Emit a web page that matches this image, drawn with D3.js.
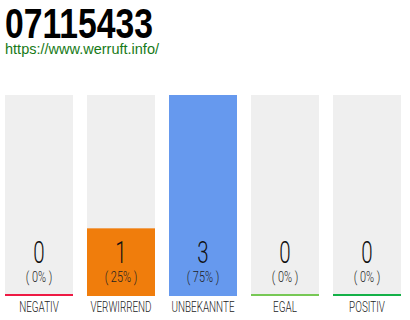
<!DOCTYPE html>
<html>
<head>
<meta charset="utf-8">
<script src="https://cdn.jsdelivr.net/npm/d3@7"></script>
<style>
  html, body { margin: 0; padding: 0; background: #fff; }
  svg { display: block; }
  text.pct { white-space: pre; }
</style>
</head>
<body>
<svg id="chart" width="410" height="320"></svg>
<script>
// Rating categories and their vote counts
const categories = ["NEGATIV", "VERWIRREND", "UNBEKANNTE", "EGAL", "POSITIV"];
const counts = [0, 1, 3, 0, 0];
const fillColors = ["#ee1a44", "#f07d0c", "#6699ee", "#77c855", "#14b148"];
const percentLabels = ["( 0% )", "( 25% )", "( 75% )", "( 0% )", "( 0% )"];
const titleText = "07115433";
const urlText = "https://www.werruft.info/";

const svg = d3.select("#chart");
const thin = "Roboto, 'Noto Sans', sans-serif";

// Header
svg.append("text")
  .attr("x", 5).attr("y", 37.5)
  .attr("font-family", "'Liberation Sans', Arial, sans-serif")
  .attr("font-weight", "bold")
  .attr("font-size", 43)
  .attr("fill", "#000")
  .attr("textLength", 148)
  .attr("lengthAdjust", "spacingAndGlyphs")
  .text(titleText);

svg.append("text")
  .attr("x", 5).attr("y", 53.5)
  .attr("font-family", "'Liberation Sans', Arial, sans-serif")
  .attr("font-size", 15)
  .attr("fill", "#177a17")
  .attr("textLength", 154)
  .attr("lengthAdjust", "spacingAndGlyphs")
  .text(urlText);

// Bars
const x = d3.scaleBand()
  .domain(categories)
  .range([5, 401])
  .paddingInner(14 / 82)
  .paddingOuter(0);

const plotTop = 95, plotBottom = 295;
const y = d3.scaleLinear()
  .domain([0, d3.max(counts)])
  .range([plotBottom, plotTop]);

const bw = x.bandwidth();
const cx = c => x(c) + bw / 2;

const cols = svg.append("g").selectAll("g.col")
  .data(categories.map((c, i) => ({ c, v: counts[i], color: fillColors[i], pct: percentLabels[i] })))
  .join("g")
  .attr("class", "col");

// background track
cols.append("rect")
  .attr("x", d => x(d.c))
  .attr("y", plotTop)
  .attr("width", bw)
  .attr("height", plotBottom - plotTop)
  .attr("fill", "#efefef");

// value fill
cols.append("rect")
  .attr("x", d => x(d.c))
  .attr("y", d => y(d.v))
  .attr("width", bw)
  .attr("height", d => plotBottom - y(d.v))
  .attr("fill", d => d.color);

// baseline stripe in category colour
cols.append("rect")
  .attr("x", d => x(d.c))
  .attr("y", plotBottom - 1)
  .attr("width", bw)
  .attr("height", 2)
  .attr("fill", d => d.color);

// narrow a text horizontally about its centre
function squeeze(sel, k) {
  sel.attr("transform", d => `translate(${cx(d.c)},0) scale(${k},1) translate(${-cx(d.c)},0)`);
}

// count
const countText = cols.append("text")
  .attr("x", d => cx(d.c))
  .attr("y", 263.5)
  .attr("text-anchor", "middle")
  .attr("font-family", thin)
  .attr("font-weight", 300)
  .attr("font-size", 32)
  .attr("fill", "#111")
  .text(d => d.v);
squeeze(countText, 0.64);

// percentage
const pctText = cols.append("text")
  .attr("class", "pct")
  .attr("x", d => cx(d.c))
  .attr("y", 282.5)
  .attr("text-anchor", "middle")
  .attr("font-family", thin)
  .attr("font-weight", 300)
  .attr("font-size", 14)
  .attr("fill", "#222")
  .text(d => d.pct);
squeeze(pctText, 0.78);

// category label
const labText = cols.append("text")
  .attr("x", d => cx(d.c))
  .attr("y", 312)
  .attr("text-anchor", "middle")
  .attr("font-family", thin)
  .attr("font-weight", 300)
  .attr("font-size", 15)
  .attr("fill", "#222")
  .text(d => d.c);
squeeze(labText, 0.66);
</script>
</body>
</html>
